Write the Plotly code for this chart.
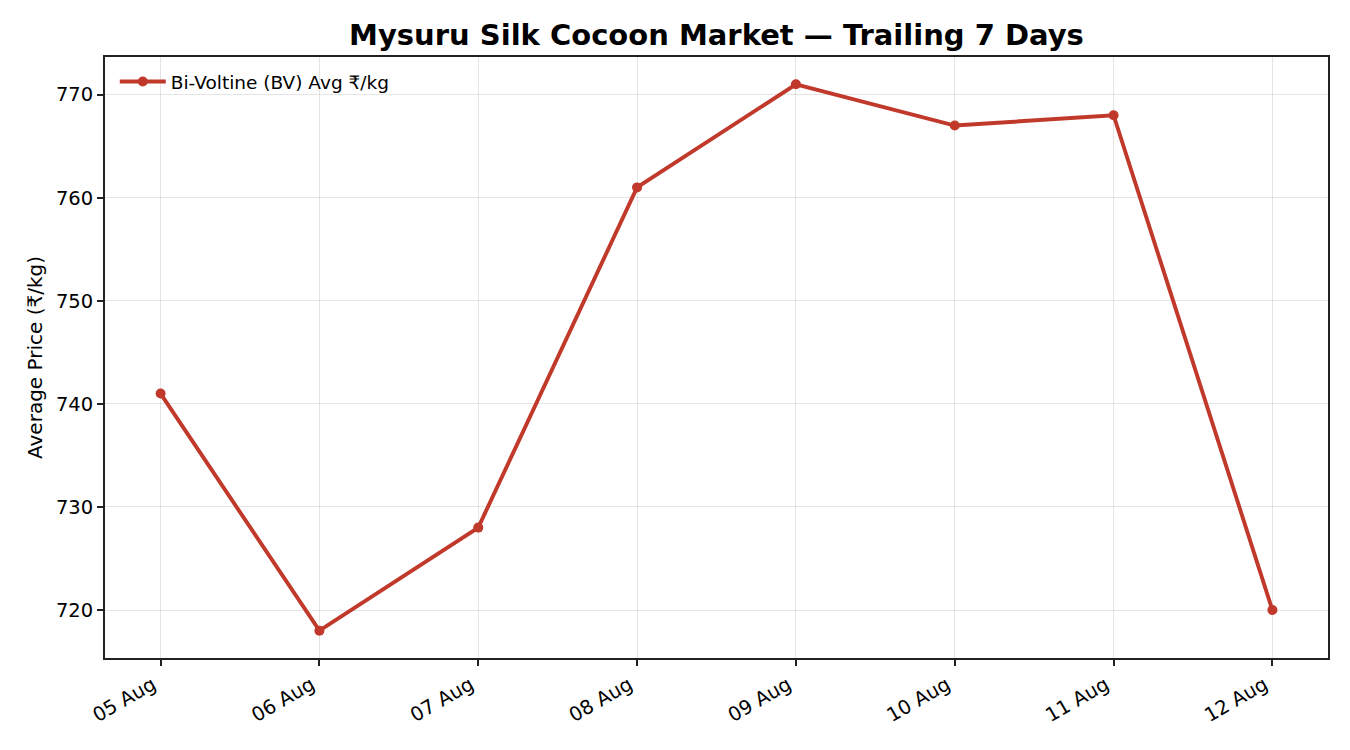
import plotly.graph_objects as go

dates = ["05 Aug", "06 Aug", "07 Aug", "08 Aug", "09 Aug", "10 Aug", "11 Aug", "12 Aug"]
bv_avg = [741, 718, 728, 761, 771, 767, 768, 720]
y_ticks = [720, 730, 740, 750, 760, 770]

x_idx = list(range(len(dates)))
color = "#c0392b"

fig = go.Figure()
fig.add_trace(go.Scatter(
    x=x_idx, y=bv_avg, mode="lines+markers",
    name="Bi-Voltine (BV) Avg ₹/kg",
    line=dict(color=color, width=3.9),
    marker=dict(color=color, size=10),
))

axis_common = dict(
    showline=True, linecolor="#222", linewidth=1.8, mirror=True,
    ticks="outside", ticklen=6, tickwidth=1.5, tickcolor="#222",
    showgrid=True, gridcolor="rgba(0,0,0,0.1)", gridwidth=1.3,
    zeroline=False,
    tickfont=dict(family="DejaVu Sans", size=19.5, color="#000"),
)

fig.update_layout(
    width=1350, height=750,
    paper_bgcolor="white", plot_bgcolor="white",
    margin=dict(l=97, r=30, t=49, b=100),
    font=dict(family="DejaVu Sans", color="#000"),
    title=dict(text="<b>Mysuru Silk Cocoon Market — Trailing 7 Days</b>",
               xref="paper", x=0.5, xanchor="center", y=0.964, yanchor="middle",
               font=dict(family="DejaVu Sans", size=29, color="#000")),
    xaxis=dict(axis_common, range=[-0.35, 7.35], tickmode="array",
               tickvals=x_idx, ticktext=dates, tickangle=-30,
               ticklabelshift=-8),
    yaxis=dict(axis_common, range=[715.35, 773.65], tickmode="array",
               tickvals=y_ticks,
               title=dict(text="Average Price (₹/kg)", standoff=8,
                          font=dict(family="DejaVu Sans", size=20))),
    legend=dict(x=0.008, y=0.99, xanchor="left", yanchor="top",
                bgcolor="rgba(255,255,255,0)", borderwidth=0,
                itemwidth=46,
                font=dict(family="DejaVu Sans", size=18.5)),
    showlegend=True,
)

fig.write_html("out.html")
